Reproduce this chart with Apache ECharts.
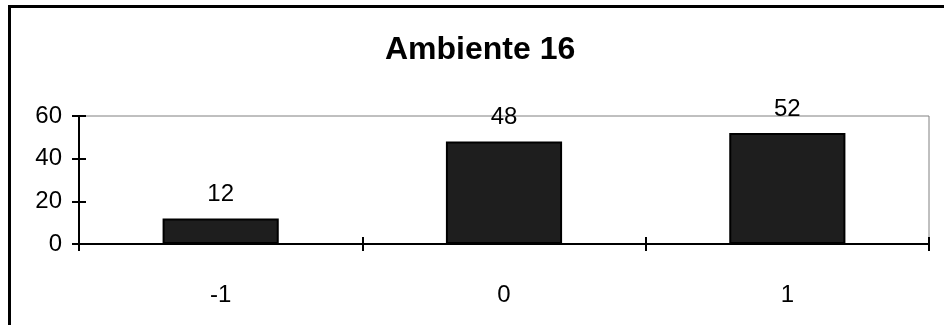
<!DOCTYPE html>
<html>
<head>
<meta charset="utf-8">
<script src="https://cdn.jsdelivr.net/npm/echarts@6/dist/echarts.min.js"></script>
<style>
  html, body { margin: 0; padding: 0; background: #fff; }
  #chart { width: 944px; height: 325px; }
</style>
</head>
<body>
<div id="chart"></div>
<script>
// Ambiente 16: answer counts per score
const categories = ['-1', '0', '1'];
const counts = [12, 48, 52];
const yTicks = { min: 0, max: 60, interval: 20 };
const chartTitle = 'Ambiente 16';

const FONT = '"Liberation Sans", Arial, sans-serif';
const chart = echarts.init(document.getElementById('chart'), null, { renderer: 'canvas' });

const plotRect = { left: 79, right: 15, top: 116, bottom: 81 };
const tickOut = { show: true, inside: false, length: 7, lineStyle: { color: '#000', width: 2 } };
const tickIn = { show: true, inside: true, length: 7, lineStyle: { color: '#000', width: 2 } };

chart.setOption({
  backgroundColor: '#ffffff',
  animation: false,
  title: {
    text: chartTitle,
    left: 385,
    top: 34,
    padding: 0,
    textStyle: { fontFamily: FONT, fontSize: 32, fontWeight: 'bold', color: '#000' }
  },
  graphic: [
    // frame around the chart area (left and top edges visible)
    {
      type: 'rect',
      shape: { x: 9.5, y: 6.5, width: 960, height: 340 },
      style: { fill: null, stroke: '#000', lineWidth: 3 },
      silent: true
    }
  ],
  // grid 0 carries the bars and outer ticks, grid 1 (same rect) the inner ticks
  grid: [
    Object.assign({ show: true, borderColor: '#808080', borderWidth: 1, backgroundColor: 'transparent' }, plotRect),
    Object.assign({ show: false }, plotRect)
  ],
  xAxis: [
    {
      gridIndex: 0,
      type: 'category',
      data: categories,
      position: 'bottom',
      axisLine: { lineStyle: { color: '#000', width: 2 } },
      axisTick: tickOut,
      axisLabel: { color: '#000', fontFamily: FONT, fontSize: 24, margin: 39 },
      splitLine: { show: false }
    },
    {
      gridIndex: 1,
      type: 'category',
      data: categories,
      position: 'bottom',
      axisLine: { show: false },
      axisTick: tickIn,
      axisLabel: { show: false },
      splitLine: { show: false }
    }
  ],
  yAxis: [
    {
      gridIndex: 0,
      type: 'value',
      min: yTicks.min, max: yTicks.max, interval: yTicks.interval,
      position: 'left',
      axisLine: { show: true, lineStyle: { color: '#000', width: 2 } },
      axisTick: tickOut,
      axisLabel: { color: '#000', fontFamily: FONT, fontSize: 24, margin: 17 },
      splitLine: { show: false }
    },
    {
      gridIndex: 1,
      type: 'value',
      min: yTicks.min, max: yTicks.max, interval: yTicks.interval,
      position: 'left',
      axisLine: { show: false },
      axisTick: tickIn,
      axisLabel: { show: false },
      splitLine: { show: false }
    }
  ],
  series: [
    {
      type: 'bar',
      data: counts,
      xAxisIndex: 0,
      yAxisIndex: 0,
      barWidth: '41%',
      itemStyle: { color: '#1e1e1e', borderColor: '#000', borderWidth: 2 },
      label: { show: true, position: 'top', distance: 12, color: '#000', fontFamily: FONT, fontSize: 24 }
    },
    {
      // empty series so the tick-only grid has its axes laid out
      type: 'bar',
      data: [],
      xAxisIndex: 1,
      yAxisIndex: 1,
      silent: true
    }
  ]
});
</script>
</body>
</html>
